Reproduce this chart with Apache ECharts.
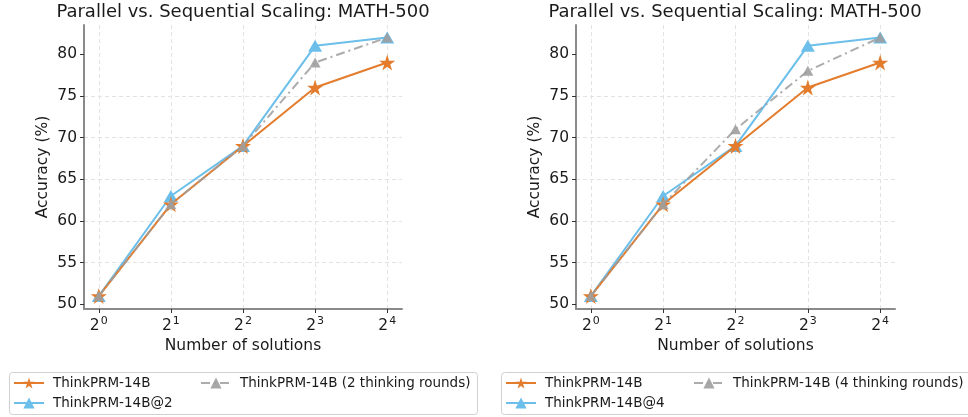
<!DOCTYPE html>
<html>
<head>
<meta charset="utf-8">
<script src="https://cdn.jsdelivr.net/npm/echarts@6/dist/echarts.min.js"></script>
<style>
html,body{margin:0;padding:0;background:#fff;}
#c{width:968px;height:417px;}
</style>
</head>
<body>
<div id="c"></div>
<script>
var xExponents = [0, 1, 2, 3, 4];
var yTicks = [50, 55, 60, 65, 70, 75, 80];
var titleText = 'Parallel vs. Sequential Scaling: MATH-500';

var leftBase = [51, 62, 69, 76, 79];
var leftAt2 = [51, 63, 69, 81, 82];
var leftRounds2 = [51, 62, 69, 79, 82];

var rightBase = [51, 62, 69, 76, 79];
var rightAt4 = [51, 63, 69, 81, 82];
var rightRounds4 = [51, 62, 71, 78, 82];

var names = {
  base: 'ThinkPRM-14B',
  at2: 'ThinkPRM-14B@2',
  r2: 'ThinkPRM-14B (2 thinking rounds)',
  at4: 'ThinkPRM-14B@4',
  r4: 'ThinkPRM-14B (4 thinking rounds)'
};

var ORANGE = '#E37C2C', BLUE = '#6CBFEA', GRAY = '#9E9E9E';
var FONT = 'DejaVu Sans';
var TXT = '#1a1a1a';

function pairs(vals){ return xExponents.map(function(e,i){ return [e, vals[i]]; }); }

function xAxis(gi){
  return {
    type:'value', gridIndex:gi, min:-0.205, max:4.205,
    name:'Number of solutions', nameLocation:'middle', nameGap:28,
    nameTextStyle:{fontFamily:FONT, fontSize:15.5, color:TXT},
    axisLine:{show:true, onZero:false, lineStyle:{color:'#8a8a8a', width:2}},
    axisTick:{show:true, length:4, lineStyle:{color:'#333', width:1}, customValues:xExponents},
    axisLabel:{customValues:xExponents, margin:7, color:TXT, fontFamily:FONT,
      formatter:function(v){ return '{b|2}{s|' + Math.round(v) + '}'; },
      rich:{ b:{fontSize:15.5, fontFamily:FONT, color:TXT}, s:{fontSize:11, fontFamily:FONT, color:TXT, padding:[0,0,8,1]} }
    },
    splitLine:{show:true, lineStyle:{color:'#e3e3e3', type:[4,3], width:1}}
  };
}
function yAxis(gi){
  return {
    type:'value', gridIndex:gi, min:49.45, max:83.5,
    name:'Accuracy (%)', nameLocation:'middle', nameGap:33, nameRotate:90,
    nameTextStyle:{fontFamily:FONT, fontSize:15.5, color:TXT},
    axisLine:{show:true, onZero:false, lineStyle:{color:'#8a8a8a', width:2}},
    axisTick:{show:true, length:4, lineStyle:{color:'#333', width:1}, customValues:yTicks},
    axisLabel:{customValues:yTicks, margin:7, fontSize:15.5, fontFamily:FONT, color:TXT},
    splitLine:{show:true, showMinLine:false, showMaxLine:false, lineStyle:{color:'#e3e3e3', type:[4,3], width:1}}
  };
}
function series(gi, name, vals, kind){
  var s = {type:'line', name:name, xAxisIndex:gi, yAxisIndex:gi, data:pairs(vals), animation:false};
  if(kind==='base'){
    s.symbol='path://M50,0 L61.8,35.5 L100,35.5 L69.1,57.4 L80.9,93 L50,71 L19.1,93 L30.9,57.4 L0,35.5 L38.2,35.5 Z';
    s.symbolSize=16; s.itemStyle={color:ORANGE}; s.lineStyle={color:ORANGE, width:2}; s.z=3;
  } else if(kind==='at'){
    s.symbol='triangle'; s.symbolSize=[14,12]; s.itemStyle={color:BLUE}; s.lineStyle={color:BLUE, width:2}; s.z=2;
  } else {
    s.symbol='triangle'; s.symbolSize=[11,10]; s.itemStyle={color:GRAY, opacity:0.9}; s.lineStyle={color:GRAY, width:2, type:[9,4,2,4], opacity:0.85}; s.z=4;
  }
  return s;
}
function legend(name, left, top){
  return {data:[name], orient:'horizontal', left:left, top:top, itemWidth:30, itemHeight:14, padding:0,
    textStyle:{fontFamily:FONT, fontSize:13.5, color:TXT, padding:[0,0,0,4]}, selectedMode:false};
}
function title(cx){
  return {text:titleText, left:cx, top:3, padding:0, textAlign:'center',
    textStyle:{fontFamily:FONT, fontSize:18, fontWeight:'normal', color:TXT}};
}

var chart = echarts.init(document.getElementById('c'), null, {renderer:'canvas'});
chart.setOption({
  backgroundColor:'#fff',
  animation:false,
  title:[title(243), title(735)],
  grid:[
    {left:84, top:25, width:318, height:284},
    {left:576, top:25, width:319, height:284}
  ],
  xAxis:[xAxis(0), xAxis(1)],
  yAxis:[yAxis(0), yAxis(1)],
  legend:[
    legend(names.base, 13, 376),
    legend(names.at2, 13, 396),
    legend(names.r2, 200, 376),
    legend(names.base, 505, 376),
    legend(names.at4, 505, 396),
    legend(names.r4, 693, 376)
  ],
  graphic:[
    {type:'rect', shape:{x:9.5, y:372.5, width:468, height:42, r:3}, style:{fill:'none', stroke:'#d0d0d0', lineWidth:1}, z:-1},
    {type:'rect', shape:{x:501.5, y:372.5, width:470, height:42, r:3}, style:{fill:'none', stroke:'#d0d0d0', lineWidth:1}, z:-1}
  ],
  series:[
    series(0, names.base, leftBase, 'base'),
    series(0, names.at2, leftAt2, 'at'),
    series(0, names.r2, leftRounds2, 'r'),
    series(1, names.base, rightBase, 'base'),
    series(1, names.at4, rightAt4, 'at'),
    series(1, names.r4, rightRounds4, 'r')
  ]
});
</script>
</body>
</html>
